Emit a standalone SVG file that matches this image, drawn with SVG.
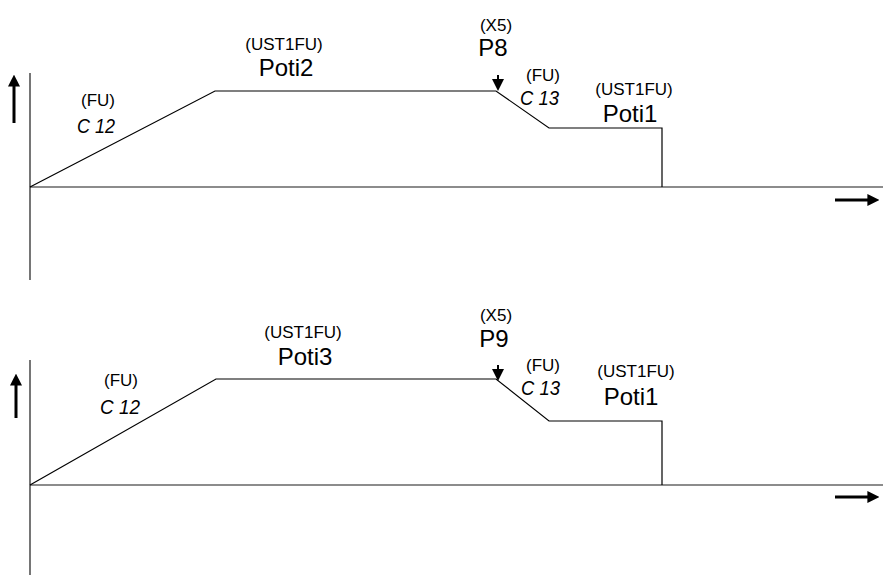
<svg xmlns="http://www.w3.org/2000/svg" width="883" height="576" viewBox="0 0 883 576">
<defs>
<marker id="ah" markerWidth="4" markerHeight="4" refX="2.2" refY="2" orient="auto" markerUnits="strokeWidth">
<path d="M0,0 L4,2 L0,4 Z" fill="#000"/>
</marker>
<marker id="sh" markerWidth="6" markerHeight="6" refX="3" refY="3" orient="auto" markerUnits="strokeWidth">
<path d="M0,0 L6,3 L0,6 Z" fill="#000"/>
</marker>
<style>
.ax{stroke:#1a1a1a;stroke-width:1.2;fill:none}
.cv{stroke:#000;stroke-width:1.2;fill:none}
.big{stroke:#000;stroke-width:3;fill:none;marker-end:url(#ah)}
.sm{stroke:#000;stroke-width:2;fill:none;marker-end:url(#sh)}
.s{font-family:"Liberation Sans",Arial,sans-serif;font-size:17px;fill:#000;text-anchor:middle}
.b{font-family:"Liberation Sans",Arial,sans-serif;font-size:24px;fill:#000;text-anchor:middle}
.seg{font-family:"Liberation Sans",Arial,sans-serif;font-size:20px;font-style:italic;fill:#000}
</style>
</defs>
<g id="connectors">
<path class="ax" d="M30,73 V280"/>
<path class="ax" d="M30,187 H883"/>
<path class="cv" d="M30,187 L215,91 H496 L549,128 H662 V187"/>
<path class="big" d="M14,123 V80"/>
<path class="big" d="M835,200 H874"/>
<path class="sm" d="M498,75 V85"/>
<path class="ax" d="M30,360 V575"/>
<path class="ax" d="M30,485 H883"/>
<path class="cv" d="M30,485 L216,379 H496 L549,421 H662 V485"/>
<path class="big" d="M16,418 V379"/>
<path class="big" d="M835,497 H874"/>
<path class="sm" d="M498,365 V375"/>
</g>
<g id="top-c12"><text class="s" x="98" y="106">(FU)</text><text class="seg" x="77" y="133" textLength="38" lengthAdjust="spacingAndGlyphs">C 12</text></g>
<g id="top-poti2"><text class="s" x="284" y="50">(UST1FU)</text><text class="b" x="286" y="76">Poti2</text></g>
<g id="top-p8"><text class="s" x="496" y="31">(X5)</text><text class="b" x="493" y="56">P8</text></g>
<g id="top-c13"><text class="s" x="543" y="81">(FU)</text><text class="seg" x="520" y="105" textLength="39" lengthAdjust="spacingAndGlyphs">C 13</text></g>
<g id="top-poti1"><text class="s" x="634" y="95">(UST1FU)</text><text class="b" x="630" y="122">Poti1</text></g>
<g id="bot-c12"><text class="s" x="121" y="386">(FU)</text><text class="seg" x="100" y="414" textLength="40" lengthAdjust="spacingAndGlyphs">C 12</text></g>
<g id="bot-poti3"><text class="s" x="303" y="338">(UST1FU)</text><text class="b" x="305" y="365">Poti3</text></g>
<g id="bot-p9"><text class="s" x="496" y="321">(X5)</text><text class="b" x="494" y="347">P9</text></g>
<g id="bot-c13"><text class="s" x="543" y="371">(FU)</text><text class="seg" x="521" y="395" textLength="39" lengthAdjust="spacingAndGlyphs">C 13</text></g>
<g id="bot-poti1"><text class="s" x="636" y="377">(UST1FU)</text><text class="b" x="631" y="405">Poti1</text></g>
</svg>
